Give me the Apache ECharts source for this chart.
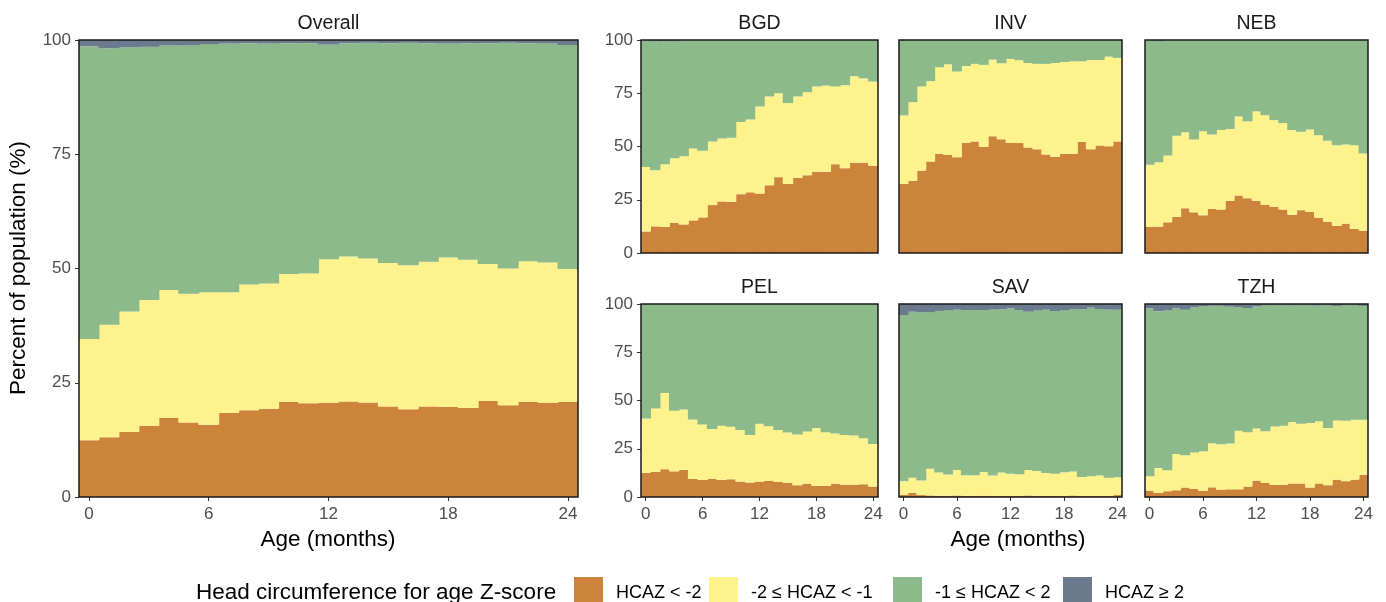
<!DOCTYPE html>
<html>
<head>
<meta charset="utf-8">
<script src="https://cdn.jsdelivr.net/npm/echarts@6/dist/echarts.min.js"></script>
<style>
  html, body { margin: 0; padding: 0; background: #fff; }
  #main { width: 1386px; height: 602px; }
</style>
</head>
<body>
<div id="main"></div>
<script>
// age in months, one bar per month
var ageMonths = ['0','1','2','3','4','5','6','7','8','9','10','11','12','13','14','15','16','17','18','19','20','21','22','23','24'];
var zNames = ['HCAZ < -2', '-2 \u2264 HCAZ < -1', '-1 \u2264 HCAZ < 2', 'HCAZ \u2265 2'];
var zColors = ['#CC833B', '#FDF28C', '#8DBA8A', '#6C7A8D'];

// percent of population in each HCAZ band
var overallLtM2  = [12.4,13.1,14.2,15.6,17.3,16.3,15.8,18.4,19.0,19.3,20.8,20.5,20.6,20.9,20.7,19.8,19.2,19.8,19.7,19.5,21.0,20.1,20.8,20.6,20.8];
var overallM2toM1 = [22.2,24.6,26.4,27.5,28.0,28.2,29.0,26.4,27.5,27.4,28.0,28.4,31.4,31.7,31.5,31.4,31.5,31.7,32.7,32.4,30.0,29.9,30.8,30.7,29.1];
var overallM1to2 = [64.0,60.5,57.8,55.4,53.5,54.3,54.3,54.4,52.8,52.5,50.5,50.4,47.0,46.7,47.2,48.1,48.7,47.8,46.8,47.4,48.3,49.4,47.7,47.9,49.0];
var overallGe2   = [1.4,1.8,1.6,1.5,1.2,1.2,0.9,0.8,0.7,0.8,0.7,0.7,1.0,0.7,0.6,0.7,0.6,0.7,0.8,0.7,0.7,0.6,0.7,0.8,1.1];

var bgdLtM2   = [10.1,12.5,12.2,14.2,13.4,15.3,16.7,22.5,24.2,24.0,27.6,28.5,27.9,31.8,35.6,32.4,35.3,36.5,38.2,38.1,41.7,39.8,42.4,42.4,41.0];
var bgdM2toM1 = [30.3,26.3,29.5,30.3,32.0,33.8,31.3,29.9,29.5,30.1,33.9,34.2,40.9,41.7,39.4,38.0,38.2,39.0,40.0,40.5,36.5,39.0,40.6,39.6,39.5];
var bgdM1to2  = [59.6,60.6,57.7,54.9,54.6,50.9,52.0,47.6,46.3,45.9,38.5,37.3,31.2,26.5,25.0,29.6,26.5,24.5,21.8,21.4,21.8,21.2,17.0,18.0,19.5];
var bgdGe2    = [0,0.6,0.6,0.6,0,0,0,0,0,0,0,0,0,0,0,0,0,0,0,0,0,0,0,0,0];

var invLtM2   = [32.4,33.9,38.7,42.9,46.6,46.0,44.9,51.8,52.4,49.8,54.8,53.4,51.6,51.6,49.5,48.7,46.2,45.1,46.6,46.6,52.1,48.7,50.5,50.1,52.4];
var invM2toM1 = [32.2,36.9,39.5,37.8,40.6,42.6,40.3,36.0,36.4,38.5,36.0,35.7,39.5,38.9,39.7,40.1,42.6,44.1,43.1,43.4,37.9,41.9,40.1,42.1,39.2];
var invM1to2  = [35.4,29.2,21.8,19.3,12.8,11.4,14.8,12.2,11.2,11.7,9.2,10.9,8.9,9.5,10.8,11.2,11.2,10.8,10.3,10.0,10.0,9.4,9.4,7.8,8.4];
var invGe2    = [0,0,0,0,0,0,0,0,0,0,0,0,0,0,0,0,0,0,0,0,0,0,0,0,0];

var nebLtM2   = [12.2,12.4,14.4,16.9,21.0,19.1,17.7,20.7,20.4,24.5,27.0,25.7,24.5,22.7,21.6,20.4,17.9,20.1,19.3,16.6,14.7,12.7,13.8,11.3,10.5];
var nebM2toM1 = [29.2,30.2,31.4,38.1,35.7,34.2,39.5,34.9,37.4,33.7,37.1,36.1,42.0,42.0,40.8,40.6,39.9,36.8,38.7,38.7,38.0,37.9,37.1,39.3,36.2];
var nebM1to2  = [58.6,56.9,54.2,45.0,43.3,46.7,42.8,44.4,42.2,41.8,35.9,38.2,33.5,35.3,37.6,39.0,42.2,43.1,42.0,44.7,47.3,49.4,49.1,49.4,53.3];
var nebGe2    = [0,0.5,0,0,0,0,0,0,0,0,0,0,0,0,0,0,0,0,0,0,0,0,0,0,0];

var pelLtM2   = [12.5,13.0,14.4,13.3,14.0,9.4,8.8,9.5,8.8,9.2,8.0,7.5,8.0,8.3,7.8,7.3,6.1,6.9,5.7,5.7,6.9,6.4,6.4,6.6,5.4];
var pelM2toM1 = [28.2,32.8,39.5,31.4,31.4,30.8,28.8,25.7,28.1,27.2,26.7,24.6,30.0,28.4,26.9,26.1,26.3,27.1,30.0,27.9,26.0,25.7,25.5,23.9,22.0];
var pelM1to2  = [59.3,54.2,46.1,55.3,54.6,59.8,62.4,64.8,63.1,63.6,65.3,67.9,62.0,63.3,65.3,66.6,67.6,66.0,64.3,66.4,67.1,67.9,68.1,69.5,72.6];
var pelGe2    = [0,0,0,0,0,0,0,0,0,0,0,0,0,0,0,0,0,0,0,0,0,0,0,0,0];

var savLtM2   = [1.2,2.2,1.0,0.8,0.6,0.5,0.8,0.6,0.5,0.7,0.5,0.6,0.5,0.5,0.8,0.5,0.6,0.5,0.5,0.8,0.5,0.5,0.5,0.5,1.0];
var savM2toM1 = [6.9,7.8,7.5,13.9,12.1,11.1,13.2,10.7,10.8,12.3,10.6,12.1,11.6,11.3,13.2,13.0,11.9,11.6,12.3,12.4,9.9,10.2,10.6,9.5,9.2];
var savM1to2  = [86.2,86.0,87.2,81.1,83.7,85.1,83.1,85.6,85.6,83.9,86.0,84.5,85.6,85.1,82.0,83.2,84.6,84.1,83.9,84.2,86.8,87.4,86.3,87.1,86.9];
var savGe2    = [5.7,4.0,4.3,4.2,3.6,3.3,2.9,3.1,3.1,3.1,2.9,2.8,2.3,3.1,4.0,3.3,2.9,3.8,3.3,2.6,2.8,1.9,2.6,2.9,2.9];

var tzhLtM2   = [3.3,2.1,3.0,3.5,4.9,4.2,3.1,5.0,3.8,4.0,4.0,5.4,8.5,7.3,6.3,6.3,7.0,7.0,4.9,7.0,6.1,9.0,8.2,9.0,11.5];
var tzhM2toM1 = [7.5,12.9,10.9,18.8,16.7,18.9,20.6,22.8,23.5,23.7,30.3,28.2,27.0,26.8,30.2,30.6,31.8,30.9,33.4,32.3,29.6,30.7,31.3,31.0,28.5];
var tzhM1to2  = [86.9,81.3,82.8,75.4,75.4,75.2,75.1,71.3,71.8,70.9,64.0,64.3,63.3,65.4,63.0,62.4,60.7,61.4,61.2,59.9,63.8,59.3,59.8,59.5,59.0];
var tzhGe2    = [2.3,3.7,3.3,2.3,3.0,1.7,1.2,0.9,0.9,1.4,1.7,2.1,1.2,0.5,0.5,0.7,0.5,0.7,0.5,0.8,0.5,1.0,0.7,0.5,1.0];

var panels = [
  { name: 'Overall', bands: [overallLtM2, overallM2toM1, overallM1to2, overallGe2], box: [79, 40, 499, 457], yLab: true,  xLab: true },
  { name: 'BGD', bands: [bgdLtM2, bgdM2toM1, bgdM1to2, bgdGe2], box: [641, 40, 237, 213],  yLab: true,  xLab: false },
  { name: 'INV', bands: [invLtM2, invM2toM1, invM1to2, invGe2], box: [899, 40, 223, 213],  yLab: false, xLab: false },
  { name: 'NEB', bands: [nebLtM2, nebM2toM1, nebM1to2, nebGe2], box: [1145, 40, 223, 213], yLab: false, xLab: false },
  { name: 'PEL', bands: [pelLtM2, pelM2toM1, pelM1to2, pelGe2], box: [641, 304, 237, 193], yLab: true,  xLab: true },
  { name: 'SAV', bands: [savLtM2, savM2toM1, savM1to2, savGe2], box: [899, 304, 223, 193], yLab: false, xLab: true },
  { name: 'TZH', bands: [tzhLtM2, tzhM2toM1, tzhM1to2, tzhGe2], box: [1145, 304, 223, 193], yLab: false, xLab: true }
];

var font = 'Liberation Sans, Arial, Helvetica, sans-serif';
var chart = echarts.init(document.getElementById('main'), null, { renderer: 'canvas' });

var grids = [], xAxes = [], yAxes = [], series = [], texts = [];
panels.forEach(function (p, i) {
  var b = p.box;
  // bars a touch wider than the band so neighbours overlap and no seams show
  var barW = b[2] / ageMonths.length + 1;
  grids.push({ left: b[0], top: b[1], width: b[2], height: b[3], show: true, z: 10,
    backgroundColor: 'transparent', borderColor: '#1a1a1a', borderWidth: 1.5 });
  xAxes.push({
    type: 'category', gridIndex: i, data: ageMonths,
    axisLine: { show: false },
    axisTick: { show: p.xLab, interval: 5, alignWithLabel: true, length: 4, lineStyle: { color: '#333' } },
    axisLabel: { show: p.xLab, interval: 5, margin: 9, fontSize: 17, color: '#4D4D4D', fontFamily: font }
  });
  yAxes.push({
    type: 'value', gridIndex: i, min: 0, max: 100, interval: 25,
    splitLine: { show: false },
    axisLine: { show: false },
    axisTick: { show: p.yLab, length: 4, lineStyle: { color: '#333' } },
    axisLabel: { show: p.yLab, margin: 8, fontSize: 17, color: '#4D4D4D', fontFamily: font }
  });
  p.bands.forEach(function (vals, k) {
    series.push({
      type: 'bar', name: zNames[k], xAxisIndex: i, yAxisIndex: i, stack: p.name,
      data: vals, barWidth: barW, silent: true,
      itemStyle: { color: zColors[k] }
    });
  });
  // facet strip title
  texts.push({ type: 'text', x: b[0] + b[2] / 2, y: b[1] - 16,
    style: { text: p.name, font: '19.5px ' + font, fill: '#1a1a1a', textAlign: 'center', textVerticalAlign: 'middle' } });
});

texts.push({ type: 'text', x: 19, y: 268, rotation: Math.PI / 2,
  style: { text: 'Percent of population (%)', font: '22.5px ' + font, fill: '#000', textAlign: 'center', textVerticalAlign: 'middle' } });
texts.push({ type: 'text', x: 328, y: 540,
  style: { text: 'Age (months)', font: '22.5px ' + font, fill: '#000', textAlign: 'center', textVerticalAlign: 'middle' } });
texts.push({ type: 'text', x: 1018, y: 540,
  style: { text: 'Age (months)', font: '22.5px ' + font, fill: '#000', textAlign: 'center', textVerticalAlign: 'middle' } });
texts.push({ type: 'text', x: 196, y: 593,
  style: { text: 'Head circumference for age Z-score', font: '22.5px ' + font, fill: '#000', textAlign: 'left', textVerticalAlign: 'middle' } });

var legendLeft = [574, 709, 893, 1063];
var legends = zNames.map(function (n, k) {
  return { data: [n], left: legendLeft[k], top: 577, icon: 'rect', itemWidth: 29, itemHeight: 32,
    selectedMode: false, padding: 0,
    textStyle: { fontSize: 18, color: '#000', fontFamily: font, padding: [0, 0, 0, 8] } };
});

chart.setOption({
  animation: false,
  backgroundColor: '#fff',
  grid: grids,
  xAxis: xAxes,
  yAxis: yAxes,
  legend: legends,
  series: series,
  graphic: texts
});
</script>
</body>
</html>
